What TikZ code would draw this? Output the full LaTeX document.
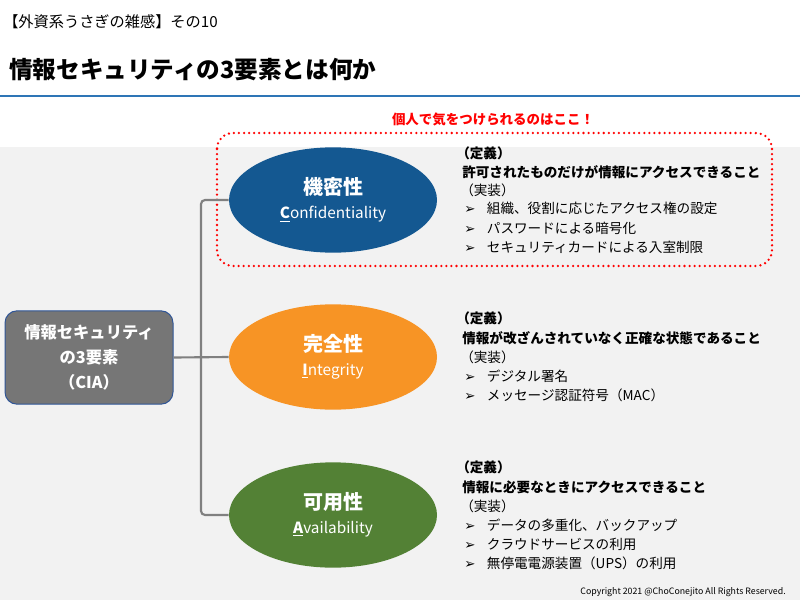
\documentclass[tikz,border=0pt]{standalone}
\usepackage{fontspec}
\setmainfont{Noto Sans CJK JP}
\newfontfamily\symfont{DejaVu Sans}
\usepackage{tikz}
\usetikzlibrary{shapes.geometric}
\usepackage{xcolor}
\definecolor{titleblue}{RGB}{46,117,182}
\definecolor{bggray}{RGB}{242,242,242}
\definecolor{confblue}{RGB}{20,88,145}
\definecolor{integorange}{RGB}{247,148,37}
\definecolor{availgreen}{RGB}{83,129,53}
\definecolor{ciagray}{RGB}{118,118,118}
\definecolor{ciaborder}{RGB}{47,85,151}
\definecolor{linkgray}{RGB}{128,128,128}
\newcommand{\arrowbul}{\makebox[17pt][l]{\symfont\fontsize{10}{12}\selectfont ➢}}
\tikzset{
  pillar/.style={ellipse, minimum width=156pt, minimum height=79pt, inner sep=0pt, text=white, align=center, font=\fontsize{11.5}{18}\selectfont},
  txt/.style={anchor=west, inner sep=0pt, font=\fontsize{10.2}{12}\selectfont},
  txtb/.style={txt, font=\bfseries\fontsize{10.2}{12}\selectfont},
  link/.style={draw=linkgray, line width=1.6pt}
}
\begin{document}
\begin{tikzpicture}[x=0.75pt,y=-0.75pt]
\useasboundingbox (0,0) rectangle (800,600);
\fill[white] (0,0) rectangle (800,600);
\fill[bggray] (0,147) rectangle (800,600);
\node[anchor=west, inner sep=0pt, font=\fontsize{11.4}{13}\selectfont] (series) at (3,22) {【外資系うさぎの雑感】その10};
\node[anchor=west, inner sep=0pt, font=\bfseries\fontsize{17.7}{20}\selectfont] (title) at (9,70) {情報セキュリティの3要素とは何か};
\draw[titleblue, line width=2.2pt] (0,96) -- (800,96);
\draw[red, line width=1.9pt, dash pattern=on 0pt off 3.8pt, line cap=round, rounded corners=12pt] (217,133) rectangle (772,266);
\node[text=red, inner sep=0pt, font=\bfseries\fontsize{10.1}{12}\selectfont] (focus) at (493,119) {個人で気をつけられるのはここ！};
\node[draw=ciaborder, line width=0.75pt, fill=ciagray, rounded corners=9pt, minimum width=126pt, minimum height=70pt, text=white, align=center, font=\bfseries\fontsize{12.2}{18.75}\selectfont] (cia) at (89,357.5) {情報セキュリティ\\の3要素\\（CIA）};
\node[pillar, fill=confblue] (conf) at (333,200) {{\bfseries\fontsize{15}{18}\selectfont 機密性}\\\underline{\bfseries C}onfidentiality};
\node[pillar, fill=integorange] (integ) at (333,357) {{\bfseries\fontsize{15}{18}\selectfont 完全性}\\\underline{\bfseries I}ntegrity};
\node[pillar, fill=availgreen] (avail) at (333,515) {{\bfseries\fontsize{15}{18}\selectfont 可用性}\\\underline{\bfseries A}vailability};
\coordinate (hub) at (201,357);
\draw[link] (cia.east) -- (integ.west);
\draw[link, rounded corners=3pt] (conf.west) -- (hub |- conf.west) -- (hub |- avail.west) -- (avail.west);
\node[txtb] (def1h) at (456,153) {（定義）};
\node[txtb] (def1) at (462,172) {許可されたものだけが情報にアクセスできること};
\node[txt] (impl1h) at (460,190) {（実装）};
\node[txt] (impl1a) at (464,208) {\arrowbul 組織、役割に応じたアクセス権の設定};
\node[txt] (impl1b) at (464,228) {\arrowbul パスワードによる暗号化};
\node[txt] (impl1c) at (464,247) {\arrowbul セキュリティカードによる入室制限};
\node[txtb] (def2h) at (456,318) {（定義）};
\node[txtb] (def2) at (462,338) {情報が改ざんされていなく正確な状態であること};
\node[txt] (impl2h) at (460,357) {（実装）};
\node[txt] (impl2a) at (464,376) {\arrowbul デジタル署名};
\node[txt] (impl2b) at (464,395) {\arrowbul メッセージ認証符号（MAC）};
\node[txtb] (def3h) at (456,467) {（定義）};
\node[txtb] (def3) at (462,487) {情報に必要なときにアクセスできること};
\node[txt] (impl3h) at (460,506) {（実装）};
\node[txt] (impl3a) at (464,525) {\arrowbul データの多重化、バックアップ};
\node[txt] (impl3b) at (464,544) {\arrowbul クラウドサービスの利用};
\node[txt] (impl3c) at (464,563) {\arrowbul 無停電電源装置（UPS）の利用};
\node[anchor=east, inner sep=0pt, font=\fontsize{6.6}{8}\selectfont] (copy) at (786,592) {Copyright 2021 @ChoConejito All Rights Reserved.};
\end{tikzpicture}
\end{document}
